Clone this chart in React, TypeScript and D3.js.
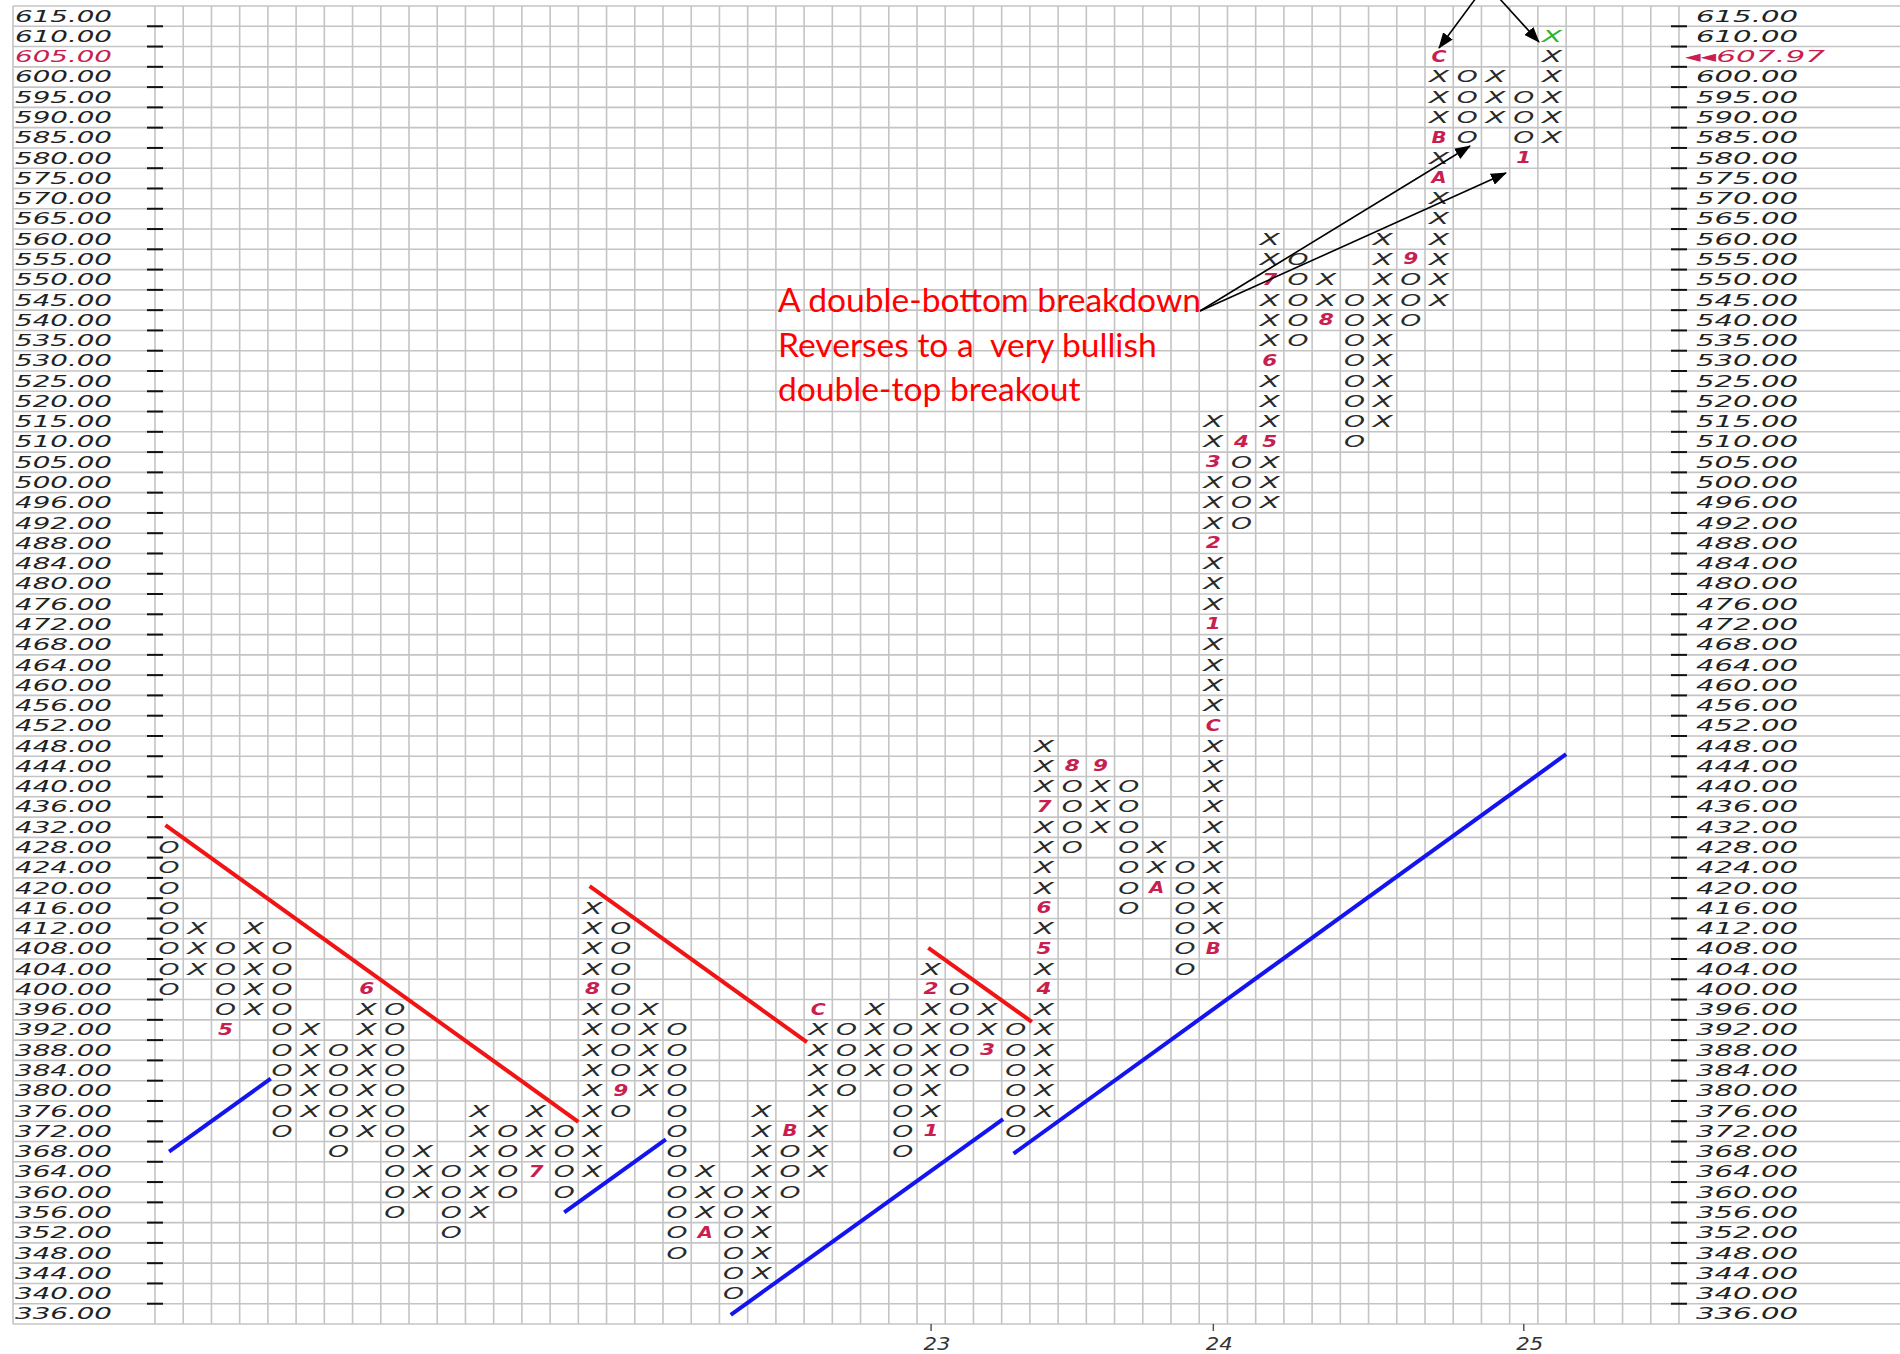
import React, { useEffect } from "react";
import * as d3 from "d3";

// ---- price ladder (row labels, top to bottom) ----
const priceLevels = [
  615, 610, 605, 600, 595, 590, 585, 580, 575, 570, 565, 560, 555, 550, 545, 540, 535, 530, 525, 520, 515, 510, 505,
  500, 496, 492, 488, 484, 480, 476, 472, 468, 464, 460, 456, 452, 448, 444, 440, 436, 432, 428, 424, 420, 416, 412,
  408, 404, 400, 396, 392, 388, 384, 380, 376, 372, 368, 364, 360, 356, 352, 348, 344, 340, 336,
];
const lastPrice = "607.97";
const lastPriceLevel = 605;

// ---- P&F columns ----
const colTypes = [
  "O", "X", "O", "X", "O", "X", "O", "X", "O", "X", "O", "X", "O", "X", "O", "X", "O", "X", "O", "X", "O", "X", "O", "X", "O",
  "X", "O", "X", "O", "X", "O", "X", "O", "X", "O", "X", "O", "X", "O", "X", "O", "X", "O", "X", "O", "X", "O", "X", "O", "X",
];
const colLow = [
  400, 404, 392, 396, 372, 376, 368, 372, 356, 360, 352, 356, 360, 364, 360, 364, 376, 380, 348, 352, 340, 344, 360, 364, 380,
  384, 368, 372, 384, 388, 372, 376, 428, 432, 416, 420, 404, 408, 492, 496, 535, 540, 510, 515, 540, 545, 585, 590, 580, 585,
];
const colHigh = [
  428, 412, 408, 412, 408, 392, 388, 400, 396, 368, 364, 376, 372, 376, 372, 416, 412, 396, 392, 364, 360, 376, 372, 396, 392,
  396, 392, 404, 400, 396, 392, 448, 444, 444, 440, 428, 424, 515, 510, 560, 555, 550, 545, 560, 555, 605, 600, 600, 595, 610,
];

// ---- month markers (column, price, label) ----
const monthCol = [2, 7, 13, 15, 16, 19, 22, 23, 27, 27, 29, 31, 31, 31, 31, 32, 33, 35, 37, 37, 37, 37, 37, 38, 39, 39, 39, 41, 44, 45, 45, 45, 48];
const monthPrice = [392, 400, 364, 400, 380, 352, 372, 396, 372, 400, 388, 400, 408, 416, 436, 444, 444, 420, 408, 452, 472, 488, 505, 510, 510, 530, 550, 540, 555, 575, 585, 605, 580];
const monthText = ["5", "6", "7", "8", "9", "A", "B", "C", "1", "2", "3", "4", "5", "6", "7", "8", "9", "A", "B", "C", "1", "2", "3", "4", "5", "6", "7", "8", "9", "A", "B", "C", "1"];

// latest box (green)
const currentCol = 49;
const currentPrice = 610;

// ---- year ticks ----
const yearCols = [27, 37, 48];
const yearLabels = ["23", "24", "25"];

// ---- trend lines in (column, row) box units ----
const redLines = [
  [0.37, 40.4, 15.0, 55.03],
  [15.4, 43.4, 23.1, 51.1],
  [27.4, 46.45, 31.07, 50.1],
];
const blueLines = [
  [0.5, 56.5, 4.1, 52.9],
  [14.5, 59.5, 18.1, 55.9],
  [20.4, 64.55, 30.05, 54.9],
  [30.42, 56.6, 50.0, 36.9],
];

const annotationLines = ["A double-bottom breakdown", "Reverses to a  very bullish", "double-top breakout"];

const W = 1900;
const H = 1354;
const nCols = 54;

export default function App() {
  useEffect(() => {
    document.body.style.margin = "0";
  }, []);

  const x = d3.scaleLinear().domain([0, nCols]).range([155, 1679]);
  const y = d3.scaleLinear().domain([0, priceLevels.length]).range([6, 1324]);
  const rowOf = (p: number) => priceLevels.indexOf(p);
  const cx = (c: number) => x(c + 0.5);
  const cy = (r: number) => y(r + 0.5);

  const markFont = { fontFamily: "DejaVu Sans", fontStyle: "italic" } as const;
  const gridColor = "#c4c4c4";
  const markColor = "#2a2a2a";
  const monthColor = "#c81e50";

  const cells: any[] = [];
  colTypes.forEach((t, c) => {
    const r0 = rowOf(colHigh[c]);
    const r1 = rowOf(colLow[c]);
    for (let r = r0; r <= r1; r++) {
      const p = priceLevels[r];
      let mi = -1;
      for (let k = 0; k < monthCol.length; k++) if (monthCol[k] === c && monthPrice[k] === p) mi = k;
      if (mi >= 0) {
        cells.push(
          <text key={`m${c}-${r}`} x={cx(c)} y={cy(r)} textAnchor="middle" dominantBaseline="central"
            fontFamily="DejaVu Sans" fontStyle="italic" fontWeight="bold" fontSize={15} textLength={15}
            lengthAdjust="spacingAndGlyphs" fill={monthColor}>{monthText[mi]}</text>
        );
      } else {
        const green = c === currentCol && p === currentPrice;
        cells.push(
          <text key={`c${c}-${r}`} x={cx(c)} y={cy(r)} textAnchor="middle" dominantBaseline="central"
            {...markFont} fontSize={16} textLength={t === "O" ? 21 : 20} lengthAdjust="spacingAndGlyphs"
            fill={green ? "#2db52d" : markColor}>{t}</text>
        );
      }
    }
  });

  const colIdx = d3.range(nCols + 1);
  const rowIdx = d3.range(priceLevels.length + 1);

  return (
    <svg width={W} height={H} style={{ display: "block", background: "#fff" }} xmlns="http://www.w3.org/2000/svg">
      <defs>
        <marker id="ah" markerUnits="userSpaceOnUse" markerWidth={16} markerHeight={12} refX={15} refY={6} orient="auto">
          <path d="M0,0 L16,6 L0,12 Z" fill="#000" />
        </marker>
      </defs>
      <rect x={0} y={0} width={W} height={H} fill="#fff" />
      {/* horizontal grid */}
      {rowIdx.map((i) => (
        <line key={`h${i}`} x1={13} x2={W} y1={y(i)} y2={y(i)} stroke={gridColor} strokeWidth={1.6} />
      ))}
      {/* vertical grid */}
      <line x1={13} x2={13} y1={y(0)} y2={y(priceLevels.length)} stroke={gridColor} strokeWidth={1.6} />
      {colIdx.map((k) => (
        <line key={`v${k}`} x1={x(k)} x2={x(k)} y1={y(0)} y2={y(priceLevels.length)} stroke={gridColor} strokeWidth={1.6} />
      ))}
      {/* axis ticks */}
      {rowIdx.slice(1, -1).map((i) => (
        <g key={`t${i}`}>
          <line x1={x(0) - 8} x2={x(0) + 8} y1={y(i)} y2={y(i)} stroke="#111" strokeWidth={2} />
          <line x1={x(nCols) - 8} x2={x(nCols) + 8} y1={y(i)} y2={y(i)} stroke="#111" strokeWidth={2} />
        </g>
      ))}
      {/* left labels */}
      {priceLevels.map((p, i) => (
        <text key={`l${i}`} x={15} y={cy(i)} dominantBaseline="central" {...markFont} fontSize={16}
          textLength={97} lengthAdjust="spacingAndGlyphs" fill={p === lastPriceLevel ? monthColor : "#222"}>
          {p.toFixed(2)}
        </text>
      ))}
      {/* right labels */}
      {priceLevels.map((p, i) =>
        p === lastPriceLevel ? (
          <text key={`r${i}`} x={1685} y={cy(i)} dominantBaseline="central" {...markFont} fontSize={16}
            textLength={140} lengthAdjust="spacingAndGlyphs" fill={monthColor}>
            {"\u25C2\u25C2" + lastPrice}
          </text>
        ) : (
          <text key={`r${i}`} x={1696} y={cy(i)} dominantBaseline="central" {...markFont} fontSize={16}
            textLength={102} lengthAdjust="spacingAndGlyphs" fill="#222">
            {p.toFixed(2)}
          </text>
        )
      )}
      {/* year ticks */}
      {yearCols.map((c, i) => (
        <g key={`y${i}`}>
          <line x1={cx(c)} x2={cx(c)} y1={y(priceLevels.length)} y2={y(priceLevels.length) + 7} stroke="#555" strokeWidth={1.5} />
          <text x={cx(c) + 6} y={1344} textAnchor="middle" dominantBaseline="central" {...markFont} fontSize={17}
            textLength={27} lengthAdjust="spacingAndGlyphs" fill="#333">{yearLabels[i]}</text>
        </g>
      ))}
      {/* trend lines */}
      {redLines.map((l, i) => (
        <line key={`rl${i}`} x1={x(l[0])} y1={y(l[1])} x2={x(l[2])} y2={y(l[3])} stroke="#f01414" strokeWidth={4} />
      ))}
      {blueLines.map((l, i) => (
        <line key={`bl${i}`} x1={x(l[0])} y1={y(l[1])} x2={x(l[2])} y2={y(l[3])} stroke="#1414f0" strokeWidth={4} />
      ))}
      {/* marks */}
      {cells}
      {/* annotation */}
      {annotationLines.map((s, i) => (
        <text key={`a${i}`} x={778} y={312 + i * 44.5} fontFamily="Lato" fontSize={33.6} fill="#ff0000" style={{ whiteSpace: "pre" }}>
          {s}
        </text>
      ))}
      <line x1={1200} y1={311} x2={1470} y2={146} stroke="#000" strokeWidth={1.6} markerEnd="url(#ah)" />
      <line x1={1200} y1={311} x2={1506} y2={173} stroke="#000" strokeWidth={1.6} markerEnd="url(#ah)" />
      <line x1={1476} y1={-2} x2={1439} y2={48} stroke="#000" strokeWidth={1.6} markerEnd="url(#ah)" />
      <line x1={1499} y1={-2} x2={1539} y2={42} stroke="#000" strokeWidth={1.6} markerEnd="url(#ah)" />
    </svg>
  );
}
